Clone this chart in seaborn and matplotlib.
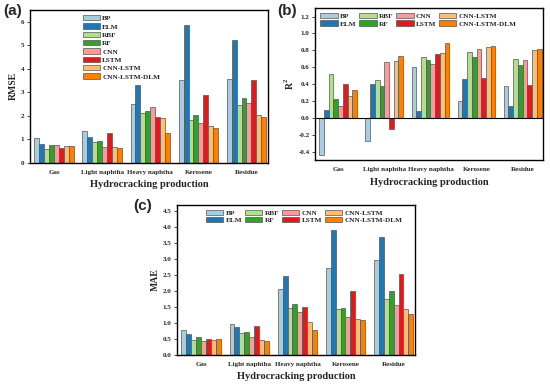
import matplotlib
matplotlib.use("Agg")
import matplotlib.pyplot as plt
import seaborn as sns
import pandas as pd

categories = ["Gas", "Light naphtha", "Heavy naphtha", "Kerosene", "Residue"]
models = ["BP", "ELM", "RBF", "RF", "CNN", "LSTM", "CNN-LSTM", "CNN-LSTM-DLM"]
colors = ["#a6cee3", "#1f78b4", "#b2df8a", "#33a02c", "#fb9a99", "#e31a1c", "#fdbf6f", "#ff7f00"]

# values per model, in category order
rmse = {
    "BP":           [1.04, 1.35, 2.50, 3.53, 3.57],
    "ELM":          [0.80, 1.12, 3.30, 5.85, 5.22],
    "RBF":          [0.60, 0.88, 2.10, 1.82, 2.48],
    "RF":           [0.75, 0.93, 2.22, 2.05, 2.75],
    "CNN":          [0.78, 0.68, 2.38, 1.70, 2.55],
    "LSTM":         [0.65, 1.27, 1.93, 2.87, 3.53],
    "CNN-LSTM":     [0.73, 0.68, 1.90, 1.55, 2.03],
    "CNN-LSTM-DLM": [0.70, 0.62, 1.28, 1.48, 1.93],
}
r2 = {
    "BP":           [-0.44, -0.27, 0.60, 0.20, 0.38],
    "ELM":          [0.09, 0.40, 0.08, 0.46, 0.14],
    "RBF":          [0.52, 0.45, 0.72, 0.78, 0.70],
    "RF":           [0.22, 0.38, 0.69, 0.72, 0.63],
    "CNN":          [0.14, 0.66, 0.64, 0.81, 0.68],
    "LSTM":         [0.40, -0.13, 0.76, 0.47, 0.39],
    "CNN-LSTM":     [0.26, 0.67, 0.77, 0.84, 0.80],
    "CNN-LSTM-DLM": [0.33, 0.73, 0.89, 0.85, 0.82],
}
mae = {
    "BP":           [0.78, 0.97, 2.08, 2.73, 2.96],
    "ELM":          [0.67, 0.87, 2.46, 3.90, 3.69],
    "RBF":          [0.48, 0.69, 1.47, 1.43, 1.75],
    "RF":           [0.57, 0.72, 1.61, 1.48, 2.00],
    "CNN":          [0.43, 0.57, 1.36, 1.19, 1.55],
    "LSTM":         [0.50, 0.92, 1.49, 2.01, 2.55],
    "CNN-LSTM":     [0.46, 0.48, 1.04, 1.14, 1.43],
    "CNN-LSTM-DLM": [0.50, 0.44, 0.78, 1.10, 1.28],
}

sns.set_theme(style="ticks")
plt.rcParams["font.family"] = ["Liberation Serif", "DejaVu Serif"]
plt.rcParams["font.weight"] = "bold"
plt.rcParams["axes.labelweight"] = "bold"
plt.rcParams["mathtext.fontset"] = "custom"
plt.rcParams["mathtext.rm"] = "Liberation Serif:bold"
plt.rcParams["mathtext.bf"] = "Liberation Serif:bold"


def long_df(d):
    rows = []
    for m in models:
        for c, v in zip(categories, d[m]):
            rows.append({"Category": c, "Model": m, "Value": v})
    return pd.DataFrame(rows)


W, H = 550.0, 385.0
fig = plt.figure(figsize=(5.5, 3.85), dpi=100)

panels = [
    ("(a)", rmse, "RMSE", [0.0545, 0.577, 0.433, 0.397], (0, 6.5), [0, 1, 2, 3, 4, 5, 6], "%d", 1, (3, 4), 0.2),
    ("(b)", r2, "R$^2$", [0.573, 0.584, 0.415, 0.395], (-0.5, 1.3), [-0.4, -0.2, 0.0, 0.2, 0.4, 0.6, 0.8, 1.0, 1.2], "%.1f", 4, (277, 4), 0.0),
    ("(c)", mae, "MAE", [0.322, 0.078, 0.433, 0.39], (0, 4.7), [0, 0.5, 1.0, 1.5, 2.0, 2.5, 3.0, 3.5, 4.0, 4.5], "%.1f", 4, (133, 199), 0.1),
]

for label, data, ylabel, rect, ylim, yticks, fmt, ncol, lab_xy, leg_x in panels:
    ax = fig.add_axes(rect)
    df = long_df(data)
    sns.barplot(data=df, x="Category", y="Value", hue="Model", palette=colors,
                hue_order=models, order=categories, edgecolor="#555555",
                linewidth=0.5, width=0.82, saturation=1, ax=ax, legend=True)
    ax.set_ylim(*ylim)
    ax.set_xlim(-0.5, 4.45)
    ax.set_yticks(yticks)
    ax.set_yticklabels([fmt % t for t in yticks])
    ax.set_xlabel("Hydrocracking production", fontsize=7.5, fontweight="bold", labelpad=4)
    ax.set_ylabel(ylabel, fontsize=7, fontweight="bold", labelpad=2)
    ax.tick_params(axis="both", labelsize=5, length=2, width=0.6, pad=2)
    ax.tick_params(axis="x", length=0, pad=5)
    if label == "(b)":
        ax.axhline(0, color="black", linewidth=0.8)
    for sp in ax.spines.values():
        sp.set_linewidth(1.0)
        sp.set_color("black")
    if ncol == 1:
        leg = ax.legend(loc="upper left", bbox_to_anchor=(leg_x, 1.0), ncol=1, frameon=False,
                        fontsize=5.2, handlelength=2.4, handleheight=0.75, labelspacing=0.3,
                        handletextpad=0.3, borderaxespad=0.3)
    else:
        leg = ax.legend(loc="upper left", bbox_to_anchor=(leg_x, 1.0), ncol=4, frameon=False,
                        fontsize=5.2, handlelength=2.4, handleheight=0.75, labelspacing=0.15,
                        handletextpad=0.3, columnspacing=0.4, borderaxespad=0.3)
    for t in leg.get_texts():
        t.set_fontweight("bold")
    fig.text(lab_xy[0] / W, 1 - lab_xy[1] / H, label, fontsize=11,
             fontweight="bold", family=["Liberation Sans", "DejaVu Sans"], va="top", ha="left")

fig.savefig("out.png", dpi=100)
